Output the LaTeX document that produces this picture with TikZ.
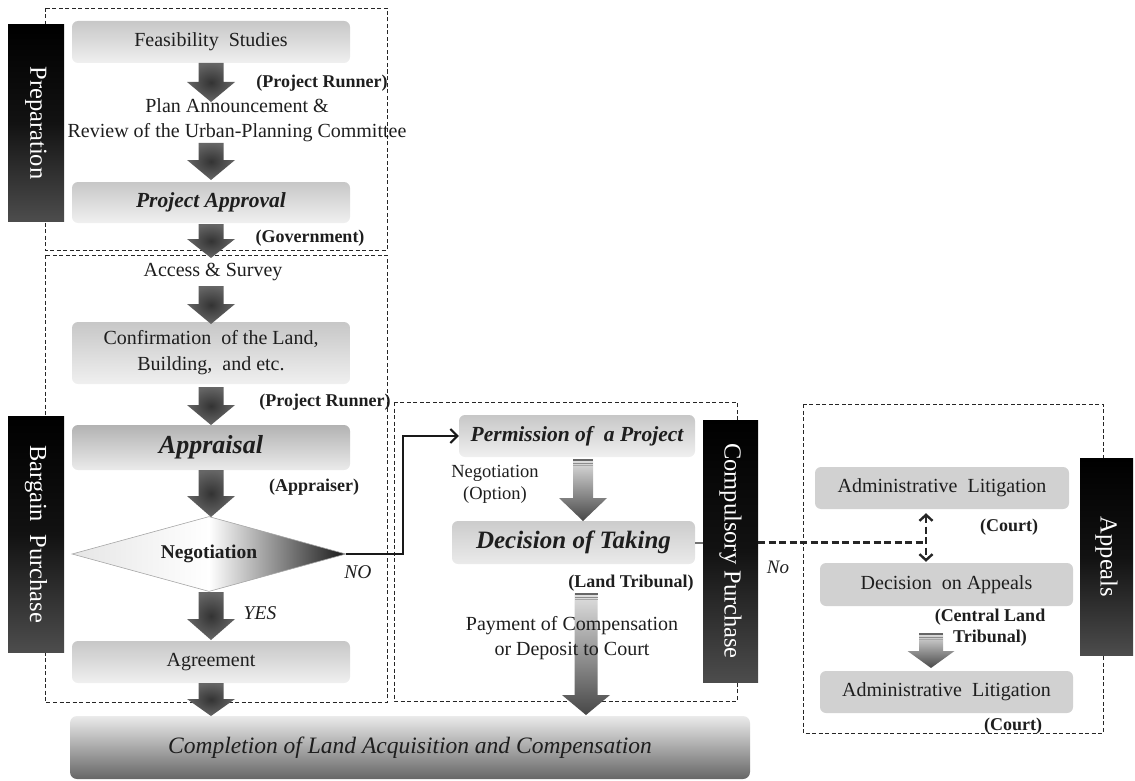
\documentclass[tikz,border=0pt]{standalone}
\usepackage{fontspec}
\setmainfont{Liberation Serif}
\usetikzlibrary{shapes.geometric,arrows.meta}
\definecolor{ink}{HTML}{1E1E1E}

% downward block arrow: [style]{x}{y top}{y tip}{shaft half width}{head half width}{head length}
\newcommand\blockdown[7][]{%
  \path[#1] (#2-#5,#3) -- (#2+#5,#3) -- (#2+#5,#4-#7) -- (#2+#6,#4-#7)
    -- (#2,#4) -- (#2-#6,#4-#7) -- (#2-#5,#4-#7) -- cycle;}
% thin bands across the tail of a gradient arrow
\newcommand\tailbands[3]{%
  \fill[black!60] (#1-#3,#2) rectangle (#1+#3,#2+2.2);
  \fill[black!45] (#1-#3,#2+3.6) rectangle (#1+#3,#2+4.8);
  \fill[black!35] (#1-#3,#2+6.2) rectangle (#1+#3,#2+7.2);}

\begin{document}
\begin{tikzpicture}[x=1pt,y=-1pt,
  txt/.style={font=\fontsize{20}{25}\selectfont, text=ink, align=center, inner sep=0pt},
  small/.style={font=\fontsize{18.5}{22}\selectfont, text=ink, align=center, inner sep=0pt},
  lab/.style={font=\bfseries\fontsize{18}{21}\selectfont, text=ink, align=center, inner sep=0pt},
  gbox/.style={rounded corners=6pt, inner sep=0pt, top color=black!22, bottom color=black!6,
    text=ink, align=center, font=\fontsize{20}{26}\selectfont},
  fbox/.style={rounded corners=6pt, inner sep=0pt, fill=black!18, text=ink, align=center,
    font=\fontsize{20}{26}\selectfont},
  big/.style={font=\bfseries\itshape\fontsize{#1}{#1}\selectfont},
  side/.style={inner sep=0pt, top color=black, bottom color=black!70, middle color=black!93},
  sidetext/.style={rotate=-90, text=white, font=\fontsize{24.5}{28}\selectfont, inner sep=0pt},
  frame/.style={draw=black!85, dash pattern=on 4pt off 2.5pt, line width=0.9pt},
  darkarrow/.style={inner color=black!80, outer color=black!60},
  lightarrow/.style={top color=black!12, bottom color=black!72},
  link/.style={draw=black!90, line width=2pt},
  dlink/.style={draw=black!85, line width=2.4pt, dash pattern=on 7pt off 3.5pt},
]
\useasboundingbox (0,0) rectangle (1135,781);

% stage frames
\draw[frame] (45,8) rectangle (387,250);
\draw[frame] (45,255) rectangle (387,702);
\draw[frame] (394,402) rectangle (737,701);
\draw[frame] (803,404) rectangle (1103,733);

% preparation
\node[gbox, minimum width=278pt, minimum height=42pt] (feas) at (211,42) {Feasibility\ \ Studies};
\node[lab] (runner1) at (322,83) {(Project Runner)};
\node[txt] (plan) at (237,120.5) {Plan Announcement \&\\Review of the Urban-Planning Committee};
\node[gbox, minimum width=278pt, minimum height=41pt, big=21.5] (approval) at (211,202.5) {Project Approval};
\node[lab] (gov) at (310,238) {(Government)};

% bargain purchase
\node[txt] (access) at (213,272) {Access \& Survey};
\node[gbox, minimum width=278pt, minimum height=62pt] (confirm) at (211,353) {Confirmation\ \ of the Land,\\Building,\ \ and etc.};
\node[lab] (runner2) at (325,402) {(Project Runner)};
\node[gbox, minimum width=278pt, minimum height=45pt, top color=black!30, bottom color=black!8, big=26] (appraisal) at (211,447.5) {Appraisal};
\node[lab] (appraiser) at (314,487) {(Appraiser)};
\node[diamond, aspect=3.65, minimum width=274pt, minimum height=75pt, inner sep=0pt,
  left color=black!10, right color=black!90, middle color=white, draw=black!35, line width=0.6pt,
  text=ink, font=\bfseries\fontsize{19.5}{20}\selectfont] (nego) at (209,554) {\raisebox{3pt}{Negotiation}};
\node[txt, font=\itshape\fontsize{19.5}{20}\selectfont] (no) at (358,572) {NO};
\node[txt, font=\itshape\fontsize{19.5}{20}\selectfont] (yes) at (260,613) {YES};
\node[gbox, minimum width=278pt, minimum height=42pt] (agree) at (211,662) {Agreement};

% completion
\node[rounded corners=7pt, inner sep=0pt, minimum width=680pt, minimum height=63pt,
  top color=black!8, bottom color=black!60, text=ink,
  font=\itshape\fontsize{23.5}{24}\selectfont] (complete) at (410,747.5) {Completion of Land Acquisition and Compensation};

% compulsory purchase
\node[gbox, minimum width=236pt, minimum height=42pt, big=21.5] (permit) at (577,436) {Permission of\ \ a Project};
\node[small] (option) at (495,484) {Negotiation\\(Option)};
\node[gbox, minimum width=243pt, minimum height=43pt, top color=black!20, bottom color=black!8, big=25] (taking) at (573.5,542.5) {Decision of Taking};
\node[lab] (tribunal) at (631,583) {(Land Tribunal)};

% appeals
\node[fbox, minimum width=254pt, minimum height=42pt] (lit1) at (942,488) {Administrative\ \ Litigation};
\node[lab] (court1) at (1009,527) {(Court)};
\node[fbox, minimum width=253pt, minimum height=43pt] (decapp) at (946.5,584.5) {Decision\ \ on Appeals};
\node[lab] (central) at (990,627.5) {(Central Land\\Tribunal)};
\node[fbox, minimum width=253pt, minimum height=42pt] (lit2) at (946.5,692) {Administrative\ \ Litigation};
\node[lab] (court2) at (1013,726) {(Court)};
\node[txt, font=\itshape\fontsize{19}{20}\selectfont] (nolab) at (778,567) {No};

% block arrows of the bargain column
\blockdown[darkarrow]{211}{63}{102}{12.5}{24}{20}
\blockdown[darkarrow]{211}{143}{180}{12.5}{24}{20}
\blockdown[darkarrow]{211}{224}{258}{12.5}{24}{19}
\blockdown[darkarrow]{211}{286}{324}{12.5}{24}{20}
\blockdown[darkarrow]{211}{387}{425}{12.5}{24}{20}
\blockdown[darkarrow]{211}{470}{517}{12.5}{24}{21}
\blockdown[darkarrow]{211}{592}{640}{12.5}{24}{21}
\blockdown[darkarrow]{211}{683}{716}{12.5}{24}{17}

% gradient arrows of the compulsory and appeal columns
\blockdown[lightarrow]{583}{459}{521}{10}{24}{23}
\tailbands{583}{459}{10}
\blockdown[lightarrow]{586}{593}{715}{11.5}{24}{20}
\tailbands{586}{593}{11.5}
\node[txt] (payment) at (572,638.5) {Payment of Compensation\\or Deposit to Court};
\blockdown[lightarrow]{931}{633}{668}{12}{23.5}{17}
\tailbands{931}{633}{12}

% stage sidebars
\node[side, minimum width=56pt, minimum height=196pt] (prep) at (36,123) {};
\node[sidetext] (preptext) at (prep.center) {Preparation};
\node[side, minimum width=56pt, minimum height=236pt] (bargain) at (36,534) {};
\node[sidetext] (bargaintext) at (bargain.center) {Bargain\ \ Purchase};
\node[side, minimum width=55pt, minimum height=262pt] (compul) at (730.5,551) {};
\node[sidetext] (compultext) at (compul.center) {Compulsory Purchase};
\node[side, minimum width=53pt, minimum height=197pt] (appeal) at (1106.5,557) {};
\node[sidetext] (appealtext) at (appeal.center) {Appeals};

% connectors
\draw[link, -{Straight Barb[length=7pt,width=14pt]}] (nego.east) -- (403,554) |- (permit.west);
\draw[draw=black!55, line width=2pt] (taking.east) -- (taking.east -| compul.west);
\coordinate (split) at (926,542.5);
\draw[dlink] (taking.east -| compul.east) -- (split);
\draw[dlink, {Straight Barb[length=6pt,width=13pt]}-{Straight Barb[length=6pt,width=13pt]}]
  ([yshift=-4pt]lit1.south -| split) -- ([yshift=1pt]decapp.north -| split);
\end{tikzpicture}
\end{document}
